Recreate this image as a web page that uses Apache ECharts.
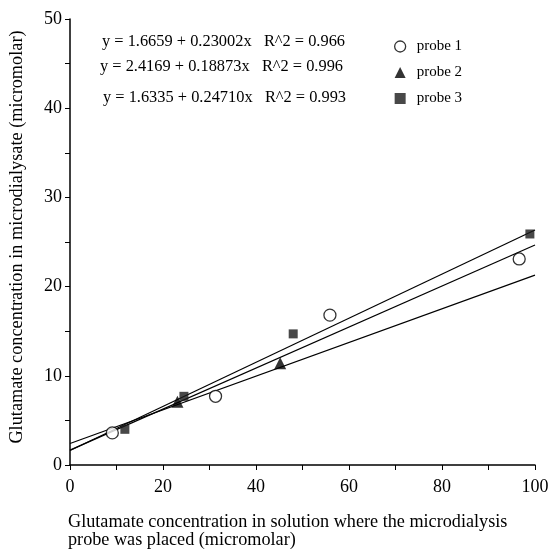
<!DOCTYPE html>
<html><head><meta charset="utf-8">
<script src="https://cdn.jsdelivr.net/npm/echarts@6/dist/echarts.min.js"></script>
<style>html,body{margin:0;padding:0;background:#fff}#c{width:548px;height:557px}</style>
</head><body><div id="c"></div>
<script>
var probe1 = [[9.1, 3.6], [31.3, 7.7], [55.9, 16.8], [96.6, 23.1]];
var probe2 = [[23.1, 7.1], [45.2, 11.4]];
var probe3 = [[11.8, 4.0], [24.5, 7.7], [48.0, 14.7], [98.9, 25.9]];
var intercepts = [1.6659, 2.4169, 1.6335];
var slopes = [0.23002, 0.18873, 0.24710];
var r2 = ['0.966', '0.996', '0.993'];
var names = ['probe 1', 'probe 2', 'probe 3'];
var fitRange = [0, 100];
var F = 'Liberation Serif, Times New Roman, serif';

var chart = echarts.init(document.getElementById('c'));
function fitLine(i){
  return fitRange.map(function(x){ return [x, intercepts[i] + slopes[i]*x]; });
}
var lineSeries = [0,1,2].map(function(i){
  return {type:'line', data: fitLine(i), symbol:'none', silent:true,
    lineStyle:{color:'#000', width:1.2}, z:2};
});
var eqTexts = [0,1,2].map(function(i){
  return 'y = ' + intercepts[i].toFixed(4) + ' + ' + slopes[i].toFixed(5) + 'x   R^2 = ' + r2[i];
});
var eqPos = [[102, 34], [100, 59], [103, 90]];
chart.setOption({
  animation:false,
  backgroundColor:'#fff',
  grid:{left:70, right:13, top:19, bottom:92, outerBoundsMode:'none', containLabel:false},
  xAxis:{type:'value', min:0, max:100, interval:20,
    axisLine:{lineStyle:{color:'#000', width:1.5}},
    axisTick:{show:true, length:5, lineStyle:{color:'#000'}},
    minorTick:{show:true, splitNumber:2, length:5, lineStyle:{color:'#000'}},
    splitLine:{show:false},
    axisLabel:{color:'#000', fontFamily:F, fontSize:18, margin:13}
  },
  yAxis:{type:'value', min:0, max:50, interval:10,
    axisLine:{show:true, lineStyle:{color:'#000', width:1.5}},
    axisTick:{show:true, length:5, lineStyle:{color:'#000'}},
    minorTick:{show:true, splitNumber:2, length:5, lineStyle:{color:'#000'}},
    splitLine:{show:false},
    axisLabel:{color:'#000', fontFamily:F, fontSize:18, margin:8}
  },
  legend:{orient:'vertical', left:389, top:34, itemGap:11, itemWidth:11, itemHeight:11,
    textStyle:{color:'#000', fontFamily:F, fontSize:15, padding:[0,0,0,6]},
    data:[
      {name:'probe 1', icon:'circle', itemStyle:{color:'#fff', borderColor:'#000', borderWidth:1.3}},
      {name:'probe 2', icon:'triangle'},
      {name:'probe 3', icon:'rect'}]
  },
  graphic: eqTexts.map(function(t, i){
    return {type:'text', left:eqPos[i][0], top:eqPos[i][1],
      style:{text:t, fill:'#000', font:'16.4px ' + F}};
  }).concat([
    {type:'text', left:68, top:513, style:{text:'Glutamate concentration in solution where the microdialysis\nprobe was placed (micromolar)', fill:'#000', font:'18.2px ' + F, lineHeight:18}},
    {type:'text', x:17, y:237, rotation:Math.PI/2,
      style:{text:'Glutamate concentration in microdialysate (micromolar)', fill:'#000', font:'18.3px ' + F, align:'center', verticalAlign:'middle'}}
  ]),
  series: lineSeries.concat([
    {name:names[0], type:'scatter', data:probe1, symbol:'circle', symbolSize:12,
      itemStyle:{color:'#fff', borderColor:'#000', borderWidth:1.3}, z:5},
    {name:names[1], type:'scatter', data:probe2, symbol:'triangle', symbolSize:12,
      itemStyle:{color:'#000'}, z:5},
    {name:names[2], type:'scatter', data:probe3, symbol:'rect', symbolSize:9,
      itemStyle:{color:'#1a1a1a'}, z:5}
  ])
});
</script></body></html>
